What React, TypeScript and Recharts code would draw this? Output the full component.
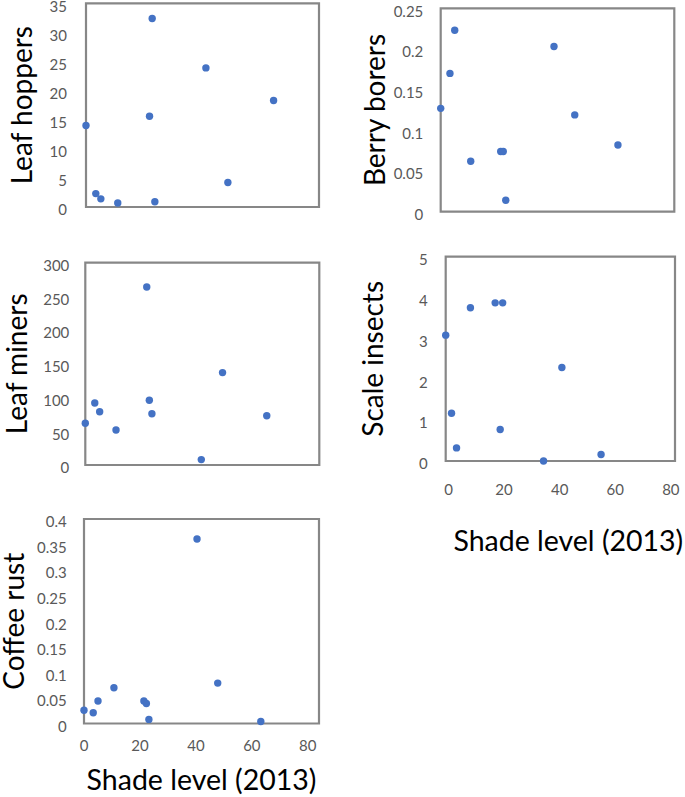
import React from "react";
import { ScatterChart, Scatter, XAxis, YAxis, ReferenceArea } from "recharts";

// shade level (2013) of the sites, as placed in the panels without x labels
const shade = [0, 3.3, 5, 10.7, 21.4, 22.3, 23.2, 40.4, 47.8, 63.2];
// the scale insects panel reads off its own axis
const shadeScale = [-1, 1.1, 2.9, 7.9, 16.8, 18.6, 19.5, 34.2, 40.8, 54.9];

const leafHoppers = [14.0, 2.3, 1.4, 0.7, 15.6, 32.4, 0.9, 23.9, 4.2, 18.3];
const berryBorers = [0.127, 0.17, 0.223, 0.062, 0.074, 0.074, 0.014, 0.203, 0.119, 0.082];
const leafMiners = [62, 92, 79, 52, 264, 96, 76, 8, 137, 73];
const scaleInsects = [3.08, 1.17, 0.32, 3.75, 3.87, 0.77, 3.87, 0, 2.29, 0.16];
const coffeeRust = [0.026, 0.021, 0.044, 0.07, 0.044, 0.039, 0.008, 0.361, 0.079, 0.004];

const shadeTicks = [0, 20, 40, 60, 80];
const hopperTicks = [0, 5, 10, 15, 20, 25, 30, 35];
const borerTicks = [0, 0.05, 0.1, 0.15, 0.2, 0.25];
const minerTicks = [0, 50, 100, 150, 200, 250, 300];
const scaleTicks = [0, 1, 2, 3, 4, 5];
const rustTicks = [0, 0.05, 0.1, 0.15, 0.2, 0.25, 0.3, 0.35, 0.4];

const FONT = "Lato, 'Open Sans', sans-serif";
const DOT = "#4472C4";
const FRAME = "#878787";

type PanelProps = {
  left: number;
  top: number;
  width: number;
  height: number;
  yWidth: number;
  margin: { top: number; right: number; bottom: number; left: number };
  xs: number[];
  ys: number[];
  xDomain: [number, number];
  yTicks: number[];
  title: string;
  titleOffset: number;
  tickGap: number;
  showX?: boolean;
  xHeight?: number;
  xTickGap?: number;
  xTitleDx?: number;
};

const Dot = (props: any) => <circle cx={props.cx} cy={props.cy} r={3.7} fill={DOT} />;

const Panel = (p: PanelProps) => {
  const data = p.xs.map((x, i) => ({ x, y: p.ys[i] }));
  const yMax = p.yTicks[p.yTicks.length - 1];
  return (
    <div style={{ position: "absolute", left: p.left, top: p.top }}>
      <ScatterChart width={p.width} height={p.height} margin={p.margin} style={{ fontFamily: FONT }}>
        <XAxis
          type="number"
          dataKey="x"
          domain={p.xDomain}
          ticks={shadeTicks}
          interval={0}
          hide={!p.showX}
          height={p.xHeight}
          axisLine={false}
          tickLine={false}
          tickSize={0}
          tickMargin={p.xTickGap}
          tick={{ fontSize: 15, fill: "#595959" }}
          label={
            p.showX
              ? {
                  value: "Shade level (2013)",
                  position: "insideBottom",
                  offset: 0,
                  dx: p.xTitleDx || 0,
                  style: { fontSize: 28.5, fill: "#000", fontFamily: FONT },
                }
              : undefined
          }
        />
        <YAxis
          type="number"
          dataKey="y"
          domain={[0, yMax]}
          ticks={p.yTicks}
          interval={0}
          width={p.yWidth}
          axisLine={false}
          tickLine={false}
          tickSize={0}
          tickMargin={p.tickGap}
          tick={{ fontSize: 15, fill: "#595959", dy: 3 }}
          label={{
            value: p.title,
            angle: -90,
            position: "insideLeft",
            offset: p.titleOffset,
            style: { textAnchor: "middle", fontSize: 28, fill: "#000", fontFamily: FONT },
          }}
        />
        <ReferenceArea
          x1={p.xDomain[0]}
          x2={p.xDomain[1]}
          y1={0}
          y2={yMax}
          fill="none"
          fillOpacity={0}
          stroke={FRAME}
          strokeWidth={2.2}
        />
        <Scatter data={data} fill={DOT} shape={Dot} isAnimationActive={false} />
      </ScatterChart>
    </div>
  );
};

export default function App() {
  return (
    <div style={{ position: "absolute", left: 0, top: 0, width: 685, height: 797, background: "#fff" }}>
      <Panel
        left={0}
        top={0}
        width={330}
        height={225}
        yWidth={86}
        margin={{ top: 3.3, right: 11, bottom: 18, left: 0 }}
        xs={shade}
        ys={leafHoppers}
        xDomain={[0, 78.5]}
        yTicks={hopperTicks}
        title="Leaf hoppers"
        titleOffset={22}
        tickGap={19}
      />
      <Panel
        left={350}
        top={0}
        width={335}
        height={230}
        yWidth={90.7}
        margin={{ top: 8.3, right: 10.7, bottom: 18.3, left: 0 }}
        xs={shade}
        ys={berryBorers}
        xDomain={[0, 83.3]}
        yTicks={borerTicks}
        title="Berry borers"
        titleOffset={25}
        tickGap={17.4}
      />
      <Panel
        left={0}
        top={250}
        width={330}
        height={235}
        yWidth={85.3}
        margin={{ top: 12.7, right: 10.7, bottom: 20, left: 0 }}
        xs={shade}
        ys={leafMiners}
        xDomain={[0, 81.5]}
        yTicks={minerTicks}
        title="Leaf miners"
        titleOffset={17}
        tickGap={16}
      />
      <Panel
        left={350}
        top={250}
        width={335}
        height={306}
        yWidth={95.7}
        margin={{ top: 6.7, right: 10, bottom: 5, left: 0 }}
        xs={shadeScale}
        ys={scaleInsects}
        xDomain={[-1, 81.5]}
        yTicks={scaleTicks}
        title="Scale insects"
        titleOffset={23}
        tickGap={18}
        showX
        xHeight={90}
        xTickGap={22.9}
        xTitleDx={8}
      />
      <Panel
        left={0}
        top={505}
        width={330}
        height={290}
        yWidth={84}
        margin={{ top: 14, right: 11, bottom: 5, left: 0 }}
        xs={shade}
        ys={coffeeRust}
        xDomain={[0, 84]}
        yTicks={rustTicks}
        title="Coffee rust"
        titleOffset={14}
        tickGap={17.3}
        showX
        xHeight={66.5}
        xTickGap={16.8}
      />
    </div>
  );
}
